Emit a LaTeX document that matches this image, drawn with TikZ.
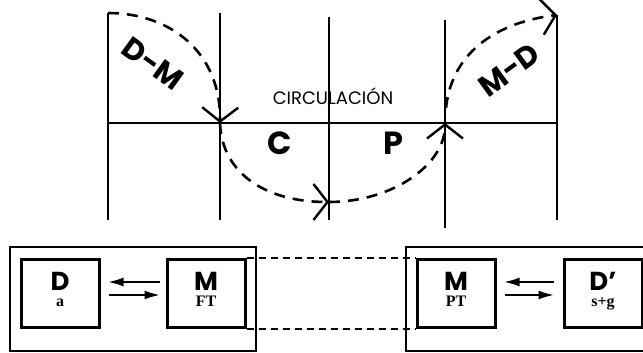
\documentclass[tikz,border=0pt]{standalone}
\usepackage{fontspec}
\setmainfont{Liberation Serif}
\newfontfamily\gothic{Poppins}
\usetikzlibrary{arrows.meta}
\tikzset{
  grid/.style={line width=2.6pt},
  flow/.style={line width=2.6pt, dash pattern=on 11pt off 8pt,
    -{Straight Barb[length=14pt,width=36pt,line width=2.4pt]}},
  outer/.style={draw, line width=1.2pt},
  box/.style={draw, line width=3pt, minimum width=78pt, minimum height=68pt, inner sep=0pt},
  big/.style={font=\gothic\bfseries\fontsize{26}{26}\selectfont, inner sep=0pt, anchor=base, text depth=0pt},
  small/.style={font=\bfseries\fontsize{16}{16}\selectfont, inner sep=0pt, anchor=base, text height=10pt},
  arr/.style={line width=1.4pt, -{Latex[length=15pt,width=9pt]}},
  link/.style={line width=1.1pt, dash pattern=on 7pt off 5pt},
  huge/.style={font=\gothic\bfseries\fontsize{30}{30}\selectfont},
  letter/.style={font=\gothic\bfseries\fontsize{32}{32}\selectfont},
}
\begin{document}
\begin{tikzpicture}[x=1pt,y=-1pt]
\useasboundingbox (0,0) rectangle (643,353);
% grid
\coordinate (h1) at (108,123);
\coordinate (h2) at (557,123);
\draw[grid] (108,13) -- (108,220);
\draw[grid] (220,13) -- (220,220);
\draw[grid] (329,17) -- (329,220);
\draw[grid] (445,20) -- (445,228);
\draw[grid] (557,15) -- (557,220);
\draw[grid] (h1) -- (h2);
% flow points
\coordinate (p0) at (108,13);
\coordinate (p1) at (220,123);
\coordinate (p2) at (329,202);
\coordinate (p2s) at (340,202);
\coordinate (p3) at (445,123);
\coordinate (p3s) at (446,108);
\coordinate (p4) at (557,15);
\draw[flow] (p0) .. controls (170,13) and (221,52) .. (p1);
\draw[flow] (p1) .. controls (222,175) and (268,202) .. (p2);
\draw[grid] (p2) -- (p2s);
\draw[flow] (p2) .. controls (392,202) and (445,165) .. (p3);
\draw[flow] (p3s) .. controls (452,50) and (500,22) .. (p4);
% labels
\node[huge, rotate=-36, inner sep=0pt] (dm) at (153,64) {D-M};
\node[huge, rotate=36, inner sep=0pt] (md) at (509,70) {M-D};
\node[font=\gothic\fontsize{18}{18}\selectfont] (circ) at (333,96) {CIRCULACIÓN};
\node[letter] (c) at (280,143) {C};
\node[letter] (p) at (393,143) {P};
% bottom
\draw[outer] (10,247) rectangle (256,351);
\draw[outer] (406,247) rectangle (660,351);
\node[box] (D) at (60,293.5) {};
\node[box] (M) at (206,293.5) {};
\node[box] (M2) at (456,293.5) {};
\node[box] (D2) at (603,293.5) {};
\node[big] at ([yshift=3.5pt]D.center) {D};
\node[small] at ([yshift=-12.5pt]D.center) {a};
\node[big] at ([yshift=3.5pt]M.center) {M};
\node[small] at ([yshift=-12.5pt]M.center) {FT};
\node[big] at ([yshift=3.5pt]M2.center) {M};
\node[small] at ([yshift=-12.5pt]M2.center) {PT};
\node[big] at ([yshift=3.5pt]D2.center) {D’};
\node[small] at ([yshift=-12.5pt]D2.center) {s+g};
\draw[arr] ([xshift=-6pt,yshift=11.5pt]M.west) -- ([xshift=8pt,yshift=11.5pt]D.east);
\draw[arr] ([xshift=8pt,yshift=-1.5pt]D.east) -- ([xshift=-6pt,yshift=-1.5pt]M.west);
\draw[arr] ([xshift=-9pt,yshift=11.5pt]D2.west) -- ([xshift=8pt,yshift=11.5pt]M2.east);
\draw[arr] ([xshift=8pt,yshift=-1.5pt]M2.east) -- ([xshift=-9pt,yshift=-1.5pt]D2.west);
\draw[link] (M.north east) -- (M2.north west);
\draw[link] (M.south east) -- (M2.south west);
\end{tikzpicture}
\end{document}
